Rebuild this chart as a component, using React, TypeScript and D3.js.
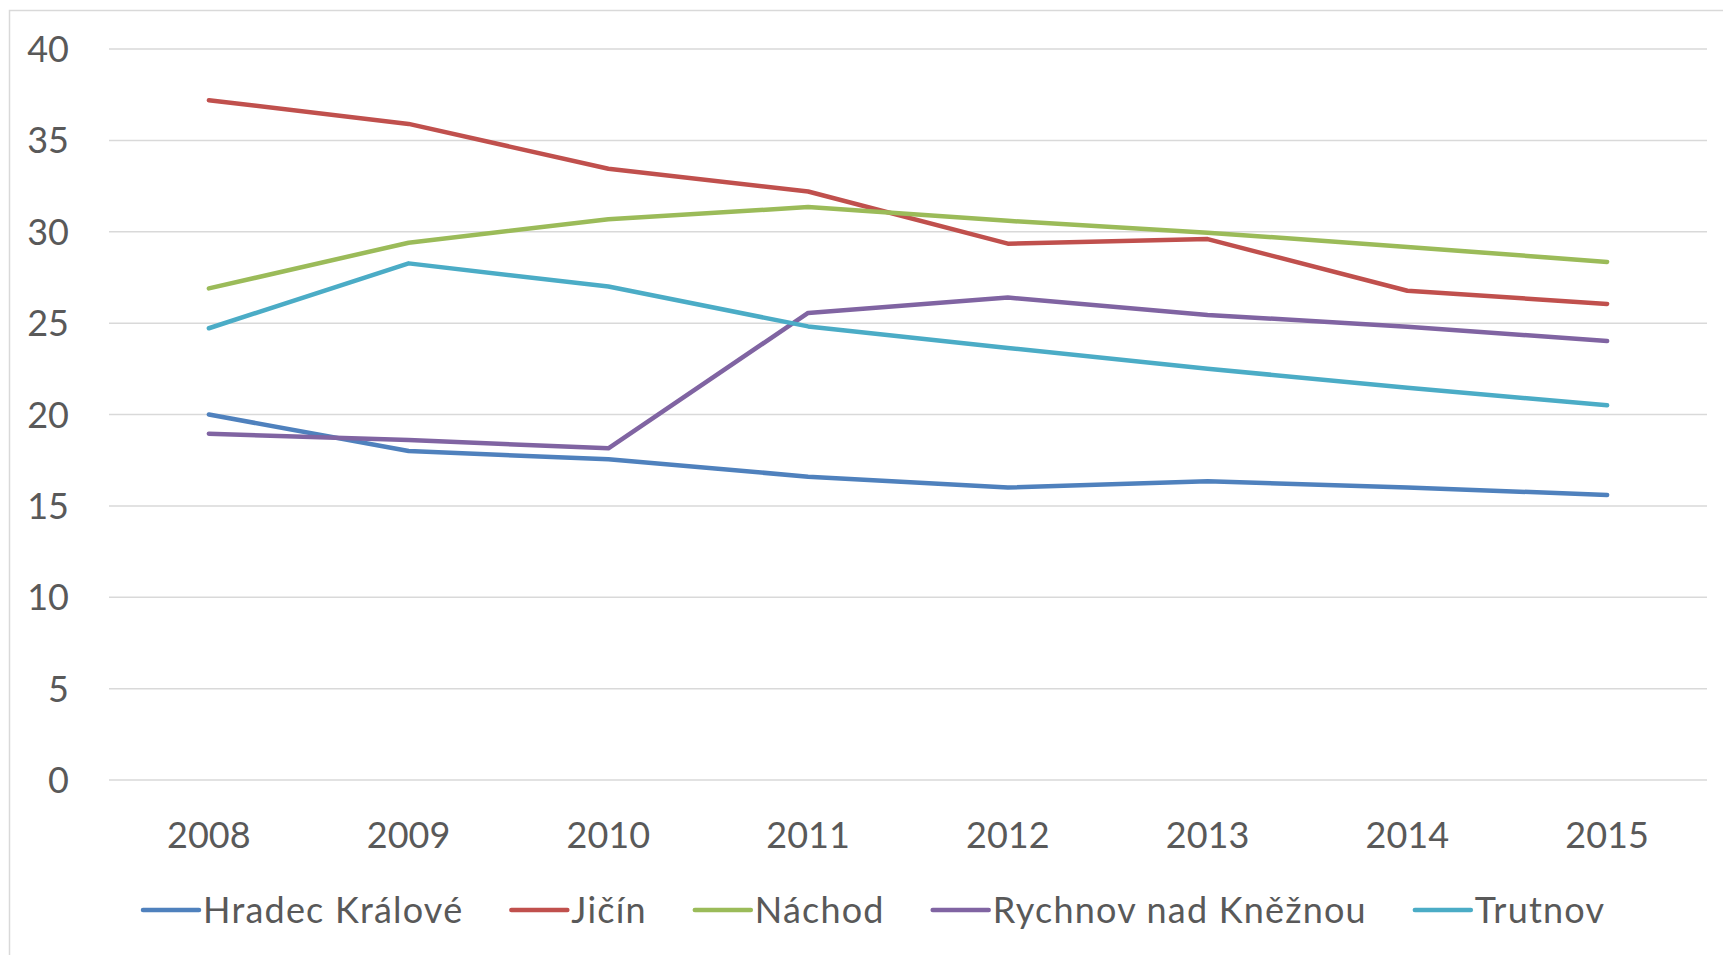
import { useRef, useEffect } from 'react';
import * as d3 from 'd3';

const YEARS = ['2008', '2009', '2010', '2011', '2012', '2013', '2014', '2015'];
const Y_TICKS = [0, 5, 10, 15, 20, 25, 30, 35, 40];

const SERIES_NAMES = ['Hradec Králové', 'Jičín', 'Náchod', 'Rychnov nad Kněžnou', 'Trutnov'];
const SERIES_COLORS = ['#4f81bd', '#c0504d', '#9bbb59', '#8064a2', '#4bacc6'];

const HRADEC = [20.0, 18.0, 17.55, 16.6, 16.0, 16.35, 16.0, 15.6];
const JICIN = [37.2, 35.9, 33.45, 32.2, 29.35, 29.6, 26.77, 26.05];
const NACHOD = [26.9, 29.4, 30.68, 31.35, 30.6, 29.95, 29.17, 28.35];
const RYCHNOV = [18.95, 18.6, 18.15, 25.56, 26.4, 25.45, 24.8, 24.02];
const TRUTNOV = [24.72, 28.27, 27.0, 24.82, 23.64, 22.5, 21.47, 20.5];

const SERIES_VALUES = [HRADEC, JICIN, NACHOD, RYCHNOV, TRUTNOV];

const FONT = 'Lato, "Open Sans", sans-serif';
const TEXT_COLOR = '#595959';
const GRID_COLOR = '#d9d9d9';

function App() {
  const svgRef = useRef<SVGSVGElement>(null);

  useEffect(() => {
    const svg = d3.select(svgRef.current);
    svg.selectAll('*').remove();

    const W = 1723, H = 955;
    const plot = { left: 109, right: 1707, top: 49, bottom: 780 };

    // outer chart border (only left and top edges show inside the picture)
    svg.append('rect')
      .attr('x', 9.5).attr('y', 10.5)
      .attr('width', W + 100).attr('height', H + 100)
      .attr('fill', '#fff')
      .attr('stroke', GRID_COLOR)
      .attr('stroke-width', 1.5);

    const x = d3.scaleBand<string>()
      .domain(YEARS)
      .range([plot.left, plot.right]);

    const y = d3.scaleLinear()
      .domain([0, 40])
      .range([plot.bottom, plot.top]);

    // Grid
    svg.append('g')
      .selectAll('line')
      .data(Y_TICKS)
      .enter()
      .append('line')
      .attr('x1', plot.left).attr('x2', plot.right)
      .attr('y1', d => y(d)).attr('y2', d => y(d))
      .attr('stroke', GRID_COLOR)
      .attr('stroke-width', 1.5);

    // Y labels
    svg.append('g')
      .selectAll('text')
      .data(Y_TICKS)
      .enter()
      .append('text')
      .attr('x', 69)
      .attr('y', d => y(d) + 13)
      .attr('text-anchor', 'end')
      .style('font-family', FONT)
      .style('font-size', '36px')
      .style('fill', TEXT_COLOR)
      .text(d => d);

    // X labels
    svg.append('g')
      .selectAll('text')
      .data(YEARS)
      .enter()
      .append('text')
      .attr('x', d => (x(d) as number) + x.bandwidth() / 2)
      .attr('y', 848)
      .attr('text-anchor', 'middle')
      .style('font-family', FONT)
      .style('font-size', '36px')
      .style('fill', TEXT_COLOR)
      .text(d => d);

    // Lines
    const line = d3.line<number>()
      .x((d, i) => (x(YEARS[i]) as number) + x.bandwidth() / 2)
      .y(d => y(d));

    svg.append('g')
      .selectAll('path')
      .data(SERIES_VALUES)
      .enter()
      .append('path')
      .attr('d', d => line(d))
      .attr('fill', 'none')
      .attr('stroke', (d, i) => SERIES_COLORS[i])
      .attr('stroke-width', 4.5)
      .attr('stroke-linecap', 'round')
      .attr('stroke-linejoin', 'round');

    // Legend – lay items out left to right using measured text widths
    const legend = svg.append('g');
    let cx = 143;
    const legendY = 910;
    SERIES_NAMES.forEach((name, i) => {
      legend.append('line')
        .attr('x1', cx).attr('x2', cx + 56)
        .attr('y1', legendY).attr('y2', legendY)
        .attr('stroke', SERIES_COLORS[i])
        .attr('stroke-width', 4.5)
        .attr('stroke-linecap', 'round');
      const t = legend.append('text')
        .attr('x', cx + 60)
        .attr('y', legendY + 13)
        .style('font-family', FONT)
        .style('font-size', '36px')
        .style('letter-spacing', '1.2px')
        .style('fill', TEXT_COLOR)
        .text(name);
      const w = (t.node() as SVGTextElement).getComputedTextLength();
      cx = cx + 60 + w + 48;
    });
  }, []);

  return (
    <svg
      ref={svgRef}
      width={1723}
      height={955}
      style={{ position: 'absolute', left: 0, top: 0, display: 'block', background: '#fff' }}
    />
  );
}

export default App;
